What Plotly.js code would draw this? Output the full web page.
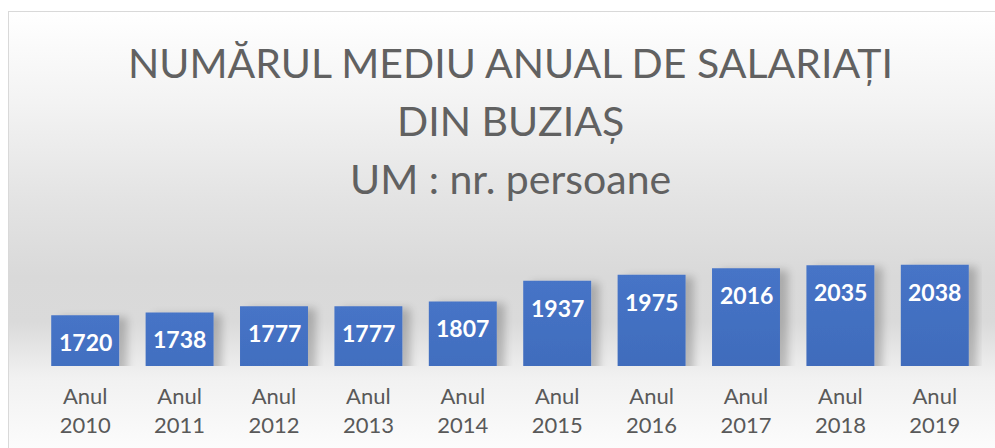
<!DOCTYPE html>
<html>
<head>
<meta charset="utf-8">
<script src="https://cdn.plot.ly/plotly-3.0.1.min.js"></script>
<style>
  html, body { margin: 0; padding: 0; width: 995px; height: 448px; overflow: hidden; background: #ffffff; }
  #frame { position: absolute; left: 8px; top: 11px; width: 1000px; height: 450px;
           border: 1px solid #d9d9d9; box-sizing: border-box;
           background: linear-gradient(to bottom, #ffffff 0px, #f3f3f3 90px, #e3e3e3 190px, #d9d9d9 265px, #dadada 310px, #f1f1f1 365px, #fcfcfc 437px); }
  #chart { position: absolute; left: 0; top: 0; width: 995px; height: 448px; }
</style>
</head>
<body>
<svg width="0" height="0" style="position:absolute">
  <defs>
    <linearGradient id="barGrad" x1="0" y1="0" x2="0" y2="1">
      <stop offset="0" stop-color="#4674c7"/>
      <stop offset="1" stop-color="#3259a2"/>
    </linearGradient>
    <filter id="barShadow" x="-20%" y="-20%" width="160%" height="150%">
      <feGaussianBlur in="SourceAlpha" stdDeviation="4"/>
      <feOffset dx="8" dy="2"/>
      <feComponentTransfer><feFuncA type="linear" slope="0.22"/></feComponentTransfer>
      <feMerge><feMergeNode/><feMergeNode in="SourceGraphic"/></feMerge>
    </filter>
  </defs>
</svg>
<div id="frame"></div>
<div id="chart"></div>
<script>
const categories = ["Anul<br>2010","Anul<br>2011","Anul<br>2012","Anul<br>2013","Anul<br>2014","Anul<br>2015","Anul<br>2016","Anul<br>2017","Anul<br>2018","Anul<br>2019"];
const values = [1720, 1738, 1777, 1777, 1807, 1937, 1975, 2016, 2035, 2038];
const titleLines = ["NUMĂRUL MEDIU ANUAL DE SALARIAȚI", "DIN BUZIAȘ", "UM : nr. persoane"];

const H = 448, T = 255, B = 82;
const plotH = H - T - B;
function paperY(px) { return (H - B - px) / plotH; }

const titleY = [62, 120, 178];
const annotations = titleLines.map((t, i) => ({
  text: t, xref: 'paper', yref: 'paper', x: 0.5, y: paperY(titleY[i]),
  xanchor: 'center', yanchor: 'middle', showarrow: false,
  font: { family: 'Lato', weight: 400, size: 41, color: '#616161' }
}));
values.forEach((v, i) => {
  annotations.push({
    x: categories[i], y: v, xref: 'x', yref: 'y', text: String(v), showarrow: false,
    yanchor: 'middle', yshift: -27,
    font: { family: 'Lato', weight: 700, size: 23, color: '#ffffff' }
  });
});

const data = [{
  type: 'bar', x: categories, y: values,
  marker: { color: '#3f67b5', line: { width: 0 } },
  hoverinfo: 'skip'
}];

const layout = {
  width: 995, height: 448,
  margin: { l: 38, r: 13, t: T, b: B, pad: 0 },
  paper_bgcolor: 'rgba(0,0,0,0)', plot_bgcolor: 'rgba(0,0,0,0)',
  bargap: 0.28,
  showlegend: false,
  xaxis: { type: 'category', showgrid: false, zeroline: false, showline: false, ticks: '',
           ticklabelstandoff: 15,
           tickfont: { family: 'Lato', size: 22, color: '#595959' } },
  yaxis: { range: [1400, 2100], visible: false, showgrid: false, zeroline: false, fixedrange: true },
  annotations: annotations
};

Plotly.newPlot('chart', data, layout, { staticPlot: true, displayModeBar: false }).then(() => {
  document.querySelectorAll('#chart .bars path').forEach(p => {
    const st = p.getAttribute('style') || '';
    p.setAttribute('style', st.replace(/fill:[^;]*;?/g, '') + ';fill:url(#barGrad);fill-opacity:1;');
    p.setAttribute('filter', 'url(#barShadow)');
  });
});
</script>
</body>
</html>
